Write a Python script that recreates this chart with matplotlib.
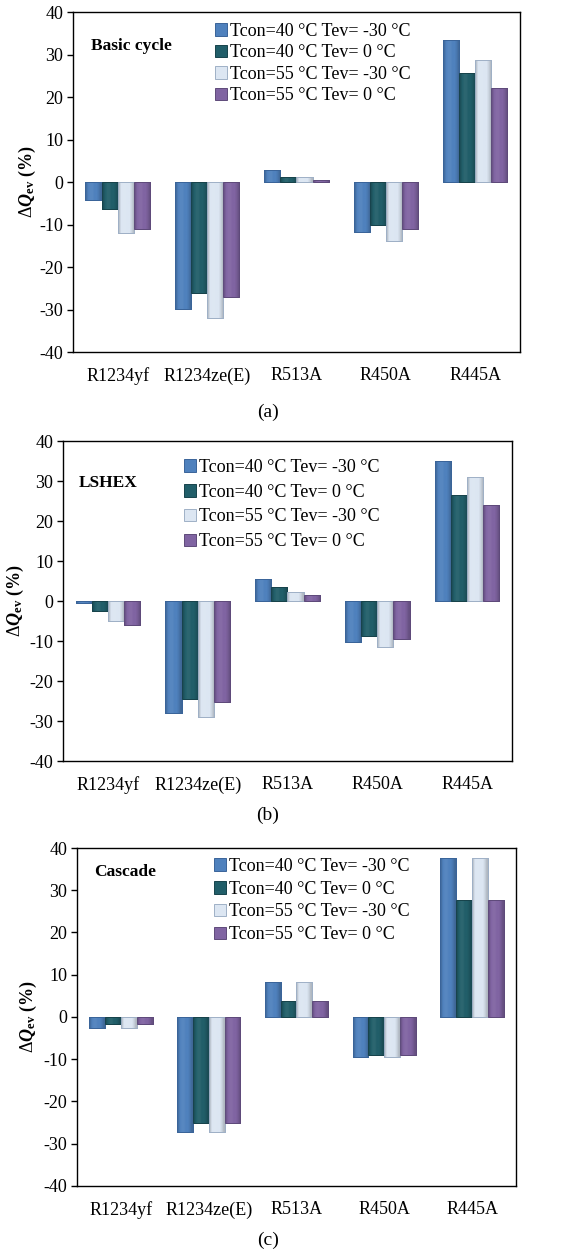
import numpy as np
import matplotlib
matplotlib.use("Agg")
import matplotlib.pyplot as plt
from matplotlib.colors import to_rgb

plt.rcParams['font.family'] = ['Liberation Serif', 'DejaVu Serif']
plt.rcParams['mathtext.fontset'] = 'custom'
plt.rcParams['mathtext.rm'] = 'Liberation Serif'
plt.rcParams['mathtext.it'] = 'Liberation Serif:italic'
plt.rcParams['mathtext.bf'] = 'Liberation Serif:bold'
plt.rcParams['mathtext.bfit'] = 'Liberation Serif:bold:italic'
plt.rcParams['axes.unicode_minus'] = False

# data
refrigerants = ["R1234yf", "R1234ze(E)", "R513A", "R450A", "R445A"]
series_labels = ["Tcon=40 °C Tev= -30 °C", "Tcon=40 °C Tev= 0 °C",
                 "Tcon=55 °C Tev= -30 °C", "Tcon=55 °C Tev= 0 °C"]

# (a) basic cycle
basic_40_m30 = [-4.3, -29.8, 2.9, -11.8, 33.4]
basic_40_0 = [-6.3, -26.1, 1.3, -10.2, 25.6]
basic_55_m30 = [-12.0, -31.9, 1.2, -13.9, 28.6]
basic_55_0 = [-11.0, -27.0, 0.5, -11.1, 22.2]

# (b) LSHEX
lshex_40_m30 = [-0.6, -28.1, 5.6, -10.2, 34.9]
lshex_40_0 = [-2.5, -24.6, 3.6, -8.75, 26.4]
lshex_55_m30 = [-4.9, -28.9, 2.25, -11.4, 31.1]
lshex_55_0 = [-6.1, -25.2, 1.4, -9.6, 23.9]

# (c) cascade
casc_40_m30 = [-2.5, -27.3, 8.4, -9.5, 37.7]
casc_40_0 = [-1.7, -25.1, 3.9, -9.1, 27.7]
casc_55_m30 = [-2.5, -27.3, 8.4, -9.5, 37.7]
casc_55_0 = [-1.7, -25.1, 3.9, -9.1, 27.7]

colors = ["#4F81BD", "#215E69", "#DCE6F2", "#8064A2"]
edges = ["#3A6499", "#17434B", "#9FB0C6", "#5E4A7A"]


def shade(c, f):
    r = np.array(to_rgb(c))
    if f < 0:
        return r * (1 + f)
    return r + (1 - r) * f


def bevel(ax, patch, color):
    # soft bevel look: darker sides, base colour in the middle
    x0, y0 = patch.get_x(), patch.get_y()
    bw, bh = patch.get_width(), patch.get_height()
    prof = [-0.18, 0.0, 0.05, 0.05, 0.0, 0.0, -0.08, -0.2]
    img = np.array([[shade(color, f) for f in prof]])
    im = ax.imshow(img, extent=(x0, x0 + bw, y0, y0 + bh), aspect='auto',
                   interpolation='bilinear', zorder=2.1)
    im.set_clip_path(patch)


fig = plt.figure(figsize=(5.82, 12.55), dpi=100)

panels = [
    ([0.1254, 0.7195, 0.768, 0.2709], [basic_40_m30, basic_40_0, basic_55_m30, basic_55_0],
     "Basic cycle", (0.04, 0.90), (0.293, 1.0), 0.25, "(a)", 1 - 412 / 1255, 27),
    ([0.1082, 0.3936, 0.7715, 0.255], [lshex_40_m30, lshex_40_0, lshex_55_m30, lshex_55_0],
     "LSHEX", (0.035, 0.87), (0.245, 0.978), 0.43, "(b)", 1 - 815 / 1255, 15),
    ([0.1323, 0.055, 0.7543, 0.2693], [casc_40_m30, casc_40_0, casc_55_m30, casc_55_0],
     "Cascade", (0.04, 0.93), (0.287, 1.003), 0.32, "(c)", 1 - 1240 / 1255, 28),
]

x = np.arange(len(refrigerants))
w = 0.18

for rect, data, title, tpos, lanchor, lspace, cap, capy, ylx in panels:
    ax = fig.add_axes(rect)
    for i, vals in enumerate(data):
        bars = ax.bar(x + (i - 1.5) * w, vals, w, color=colors[i], edgecolor=edges[i],
                      linewidth=0.7, label=series_labels[i], zorder=2)
        for b in bars:
            bevel(ax, b, colors[i])
        for b in bars:
            # outline on top of the gradient
            ax.add_patch(plt.Rectangle((b.get_x(), b.get_y()), b.get_width(), b.get_height(),
                                       fill=False, edgecolor=edges[i], linewidth=0.7, zorder=2.2))
    ax.set_xlim(-0.5, 4.5)
    ax.set_ylim(-40, 40)
    ax.set_yticks(np.arange(-40, 41, 10))
    ax.set_xticks(x)
    ax.set_xticklabels(refrigerants)
    ax.tick_params(axis='x', length=0, pad=11, labelsize=13)
    ax.tick_params(axis='y', length=4, width=1, direction='out', pad=3, labelsize=13)
    for s in ax.spines.values():
        s.set_linewidth(1.0)
    ax.text(tpos[0], tpos[1], title, transform=ax.transAxes, fontsize=12.5,
            fontweight='bold', va='center')
    ax.legend(loc='upper left', bbox_to_anchor=lanchor, frameon=False, fontsize=13,
              handlelength=0.7, handleheight=0.7, handletextpad=0.15,
              labelspacing=lspace, borderaxespad=0.2)
    fig.text(ylx / 582, rect[1] + rect[3] / 2, r'$\Delta\mathbfit{Q}_{\mathbf{ev}}$ (%)',
             rotation=90, fontsize=13, fontweight='bold', ha='center', va='center')
    fig.text(268 / 582, capy, cap, fontsize=14, ha='center', va='center')

fig.savefig("out.png", dpi=100)
